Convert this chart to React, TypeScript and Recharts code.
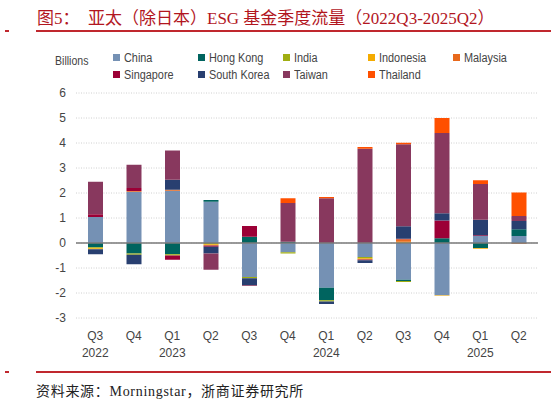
import { Bar, BarChart, CartesianGrid, ReferenceLine, XAxis, YAxis } from "recharts";

const quarters = ["Q3", "Q4", "Q1", "Q2", "Q3", "Q4", "Q1", "Q2", "Q3", "Q4", "Q1", "Q2"];
const years = ["2022", "", "2023", "", "", "", "2024", "", "", "", "2025", ""];

const china = [1.04, 2.05, 2.09, 1.65, -1.36, -0.37, -1.79, -0.56, -1.47, -2.09, 0.28, 0.28];
const hongKong = [-0.17, -0.42, -0.45, 0.07, 0.25, 0.05, -0.5, 0, -0.05, 0.19, -0.2, 0.27];
const india = [-0.04, -0.05, -0.05, -0.05, -0.05, -0.05, -0.05, -0.05, -0.04, 0, 0, 0];
const indonesia = [-0.04, 0, 0, -0.05, 0, 0, 0, -0.05, 0.05, -0.02, -0.03, 0];
const malaysia = [0, 0.03, 0.04, 0, 0, 0, 0, 0, 0.1, 0, 0, -0.03];
const singapore = [0.11, 0.12, -0.17, -0.05, 0.43, 0, 0, -0.03, 0.02, 0.71, 0.03, 0];
const southKorea = [-0.2, -0.38, 0.4, -0.27, -0.28, 0, -0.1, -0.11, 0.5, 0.29, 0.62, 0.33];
const taiwan = [1.3, 0.93, 1.17, -0.65, -0.03, 1.55, 1.79, 3.77, 3.28, 3.21, 1.43, 0.2];
const thailand = [0, 0, 0, 0, 0, 0.19, 0.05, 0.07, 0.06, 0.6, 0.15, 0.94];

const yTicks = [-3, -2, -1, 0, 1, 2, 3, 4, 5, 6];

const series = [
  { key: "China", values: china, color: "#7591b4" },
  { key: "Hong Kong", values: hongKong, color: "#00645f" },
  { key: "India", values: india, color: "#a0ae12" },
  { key: "Indonesia", values: indonesia, color: "#f4ab00" },
  { key: "Malaysia", values: malaysia, color: "#e8691c" },
  { key: "Singapore", values: singapore, color: "#9c0036" },
  { key: "South Korea", values: southKorea, color: "#283f70" },
  { key: "Taiwan", values: taiwan, color: "#88385e" },
  { key: "Thailand", values: thailand, color: "#ff5000" },
];

const data = quarters.map((q, i) => {
  const row: Record<string, string | number> = { id: `${q}-${i}`, quarter: q, year: years[i] };
  series.forEach((s) => {
    row[s.key] = s.values[i];
  });
  return row;
});

const narrow = '"Liberation Sans Narrow", "Liberation Sans", Arial, sans-serif';
const serifCjk = '"Liberation Serif", "Noto Sans CJK SC", serif';

function QuarterTick({ x, y, payload }: any) {
  const i = payload.index;
  return (
    <g transform={`translate(${x},${y})`}>
      <text x={0} y={14} textAnchor="middle" fill="#444" fontSize={12} fontFamily={narrow}>
        {quarters[i]}
      </text>
      {years[i] && (
        <text x={0} y={31} textAnchor="middle" fill="#444" fontSize={12} fontFamily={narrow}>
          {years[i]}
        </text>
      )}
    </g>
  );
}

export default function App() {
  return (
    <div style={{ position: "absolute", left: 0, top: 0, width: 551, height: 404, background: "#fff" }}>
      <div
        style={{
          position: "absolute",
          left: 37,
          top: 4,
          color: "#b2161e",
          fontSize: 17,
          fontFamily: serifCjk,
          whiteSpace: "nowrap",
        }}
      >
        图5：&nbsp;&nbsp;亚太（除日本）ESG 基金季度流量（2022Q3-2025Q2）
      </div>
      <div style={{ position: "absolute", left: 36, top: 30, width: 515, height: 1.5, background: "#c0282e" }} />
      <div style={{ position: "absolute", left: 5, top: 30, width: 4, height: 1.5, background: "#c0282e" }} />

      <div
        style={{
          position: "absolute",
          left: 55,
          top: 54,
          fontSize: 12,
          color: "#444",
          fontFamily: narrow,
          transform: "scaleX(0.88)",
          transformOrigin: "left",
        }}
      >
        Billions
      </div>
      <div
        style={{
          position: "absolute",
          left: 113,
          top: 50,
          display: "grid",
          gridTemplateColumns: "repeat(5, 85px)",
          rowGap: 2,
          fontSize: 12.5,
          color: "#444",
          fontFamily: narrow,
        }}
      >
        {series.map((s) => (
          <div key={s.key} style={{ display: "flex", alignItems: "center", height: 15, whiteSpace: "nowrap" }}>
            <span style={{ width: 7, height: 7, background: s.color, marginRight: 4, display: "inline-block" }} />
            <span style={{ display: "inline-block", transform: "scaleX(0.87)", transformOrigin: "left" }}>
              {s.key}
            </span>
          </div>
        ))}
      </div>

      <div style={{ position: "absolute", left: 0, top: 0 }}>
        <BarChart
          width={551}
          height={370}
          data={data}
          stackOffset="sign"
          barSize={15}
          margin={{ top: 93, right: 13, left: 0, bottom: 12 }}
        >
          <CartesianGrid vertical={false} stroke="#d0d0d0" strokeDasharray="1 1.5" />
          <XAxis
            dataKey="id"
            axisLine={false}
            tickLine={false}
            interval={0}
            height={40}
            tick={<QuarterTick />}
          />
          <YAxis
            domain={[-3, 6]}
            ticks={yTicks}
            width={76}
            axisLine={false}
            tickLine={false}
            tick={{ fill: "#444", fontSize: 12, fontFamily: narrow, dx: -2 }}
          />
          <ReferenceLine y={0} stroke="#7a7a7a" strokeWidth={1.5} />
          {series.map((s) => (
            <Bar key={s.key} dataKey={s.key} stackId="a" fill={s.color} isAnimationActive={false} />
          ))}
        </BarChart>
      </div>

      <div style={{ position: "absolute", left: 36, top: 371, width: 515, height: 1.5, background: "#c0282e" }} />
      <div style={{ position: "absolute", left: 5, top: 371, width: 4, height: 1.5, background: "#c0282e" }} />
      <div
        style={{
          position: "absolute",
          left: 36,
          top: 380,
          fontSize: 14,
          letterSpacing: 0.7,
          color: "#222",
          fontFamily: serifCjk,
          whiteSpace: "nowrap",
        }}
      >
        资料来源：Morningstar，浙商证券研究所
      </div>
    </div>
  );
}
